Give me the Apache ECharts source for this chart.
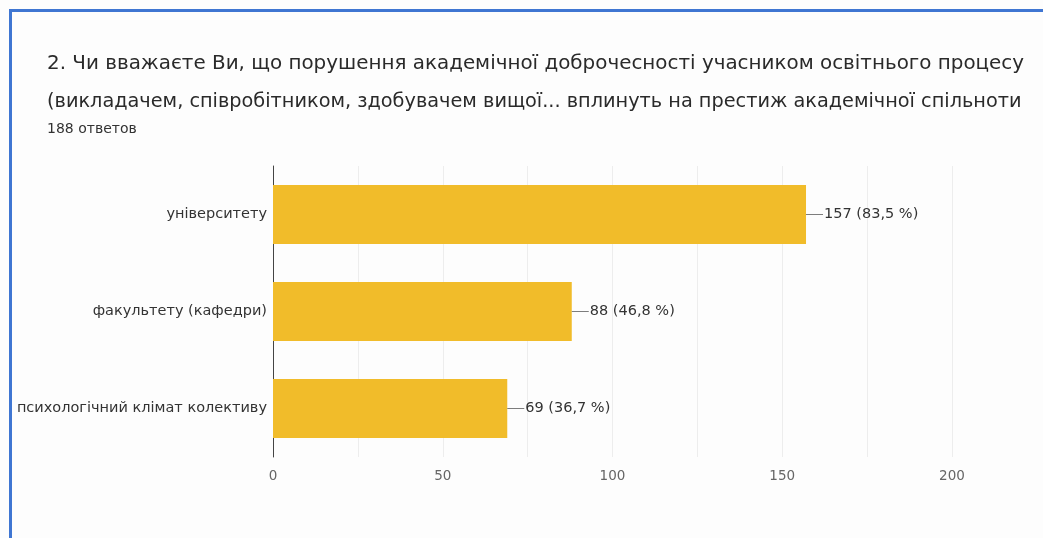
<!DOCTYPE html>
<html>
<head>
<meta charset="utf-8">
<script src="https://cdn.jsdelivr.net/npm/echarts@6/dist/echarts.min.js"></script>
<style>
html,body{margin:0;padding:0;background:#fdfdfd;}
#wrap{position:absolute;left:0;top:0;width:1043px;height:538px;}
#frameL{position:absolute;left:9px;top:9px;width:3px;height:529px;background:#3f76d2;}
#frameT{position:absolute;left:9px;top:9px;width:1034px;height:3px;background:#3f76d2;}
#chart{position:absolute;left:0;top:0;width:1043px;height:538px;}
</style>
</head>
<body>
<div id="wrap">
<div id="chart"></div>
<div id="frameL"></div>
<div id="frameT"></div>
</div>
<script>
const titleLines = [
  "2. Чи вважаєте Ви, що порушення академічної доброчесності учасником освітнього процесу",
  "(викладачем, співробітником, здобувачем вищої... вплинуть на престиж академічної спільноти"
];
const subtitleText = "188 ответов";
const categories = ["університету", "факультету (кафедри)", "психологічний клімат колективу"];
const counts = [157, 88, 69];
const percents = ["83,5", "46,8", "36,7"];
const axisTicks = [0, 25, 50, 75, 100, 125, 150, 175, 200];
const labeledTicks = [0, 50, 100, 150, 200];

const FONT = 'DejaVu Sans';
const chart = echarts.init(document.getElementById('chart'), null, {renderer: 'canvas'});
const option = {
  backgroundColor: '#fdfdfd',
  animation: false,
  title: [{
    text: '{a|' + titleLines[0] + '}\n{b|' + titleLines[1] + '}',
    left: 42, top: 40,
    textStyle: {
      fontFamily: FONT, fontSize: 19.9, fontWeight: 'normal', color: '#2a2a2a', lineHeight: 38,
      rich: {
        a: {fontFamily: FONT, fontSize: 19.9, color: '#2a2a2a', lineHeight: 38},
        b: {fontFamily: FONT, fontSize: 19.3, color: '#2a2a2a', lineHeight: 38}
      }
    }
  }, {
    text: subtitleText,
    left: 42, top: 117,
    textStyle: {fontFamily: FONT, fontSize: 14, fontWeight: 'normal', color: '#333'}
  }],
  grid: {left: 273, right: 91, top: 166, bottom: 81, containLabel: false},
  xAxis: {
    type: 'value', min: axisTicks[0], max: axisTicks[axisTicks.length - 1], interval: axisTicks[1] - axisTicks[0],
    axisLine: {show: false}, axisTick: {show: false},
    splitLine: {show: true, lineStyle: {color: '#ededed', width: 1}},
    axisLabel: {
      margin: 12, color: '#666', fontFamily: FONT, fontSize: 13.5,
      formatter: v => labeledTicks.includes(v) ? String(v) : ''
    }
  },
  yAxis: {
    type: 'category', data: categories, inverse: true,
    axisLine: {show: true, lineStyle: {color: '#444', width: 1}},
    axisTick: {show: false},
    axisLabel: {margin: 6, color: '#333', fontFamily: FONT, fontSize: 14.5}
  },
  series: [{
    type: 'bar',
    data: counts,
    barCategoryGap: '39%',
    itemStyle: {color: '#f1bc2a'},
    label: {
      show: true, position: 'right', distance: 0,
      formatter: p => '{ln|}{t|' + counts[p.dataIndex] + ' (' + percents[p.dataIndex] + ' %)}',
      rich: {
        ln: {width: 17, height: 1, backgroundColor: '#7d7d7d', verticalAlign: 'middle'},
        t: {color: '#333', fontFamily: FONT, fontSize: 14.5, padding: [0, 0, 0, 1]}
      }
    }
  }]
};
chart.setOption(option);
</script>
</body>
</html>
